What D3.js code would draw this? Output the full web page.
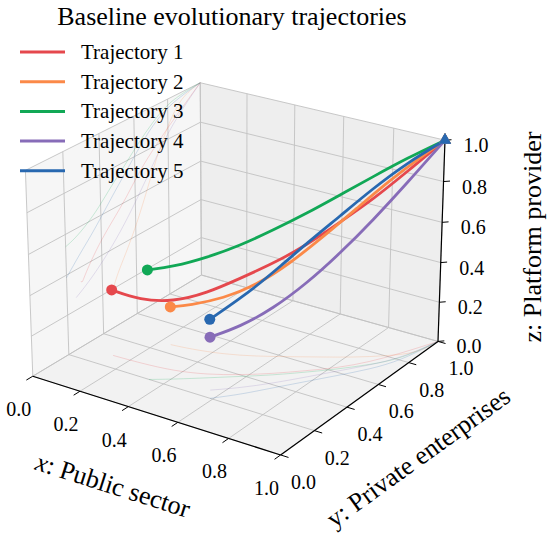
<!DOCTYPE html>
<html>
<head>
<meta charset="utf-8">
<script src="https://cdn.jsdelivr.net/npm/d3@7"></script>
<style>
  body { margin: 0; background: #fff; }
  svg { display: block; }
  text { font-family: "Liberation Serif", "Times New Roman", serif; fill: #000; }
</style>
</head>
<body>
<div id="chart"></div>
<script>
// Trajectory samples, as [x, y, z]
const traj1 = [[0.13, 0.28, 0.33], [0.245, 0.285, 0.317], [0.372, 0.30, 0.345], [0.481, 0.34, 0.404], [0.575, 0.40, 0.478],
  [0.661, 0.47, 0.545], [0.741, 0.55, 0.621], [0.82, 0.63, 0.719], [0.887, 0.73, 0.804], [0.942, 0.85, 0.896], [1, 1, 1]];
const traj2 = [[0.245, 0.46, 0.192], [0.321, 0.47, 0.223], [0.439, 0.50, 0.282], [0.542, 0.55, 0.359], [0.637, 0.61, 0.468],
  [0.73, 0.67, 0.60], [0.823, 0.73, 0.739], [0.908, 0.80, 0.87], [0.987, 0.88, 0.977], [1, 1, 1]];
const traj3 = [[0.34, 0.20, 0.54], [0.41, 0.25, 0.554], [0.496, 0.32, 0.592], [0.581, 0.39, 0.644], [0.667, 0.46, 0.713],
  [0.746, 0.54, 0.78], [0.824, 0.62, 0.855], [0.896, 0.71, 0.923], [0.964, 0.81, 0.986], [1, 1, 1]];
const traj4 = [[0.556, 0.25, 0.262], [0.629, 0.32, 0.302], [0.701, 0.41, 0.37], [0.768, 0.51, 0.464], [0.834, 0.61, 0.582],
  [0.90, 0.71, 0.717], [0.961, 0.82, 0.861], [1, 1, 1]];
const traj5 = [[0.59, 0.20, 0.387], [0.656, 0.28, 0.47], [0.694, 0.34, 0.525], [0.733, 0.40, 0.588], [0.785, 0.48, 0.678],
  [0.85, 0.58, 0.781], [0.915, 0.68, 0.887], [0.97, 0.80, 0.969], [1, 1, 1]];

const seriesNames = ["Trajectory 1", "Trajectory 2", "Trajectory 3", "Trajectory 4", "Trajectory 5"];
const seriesColors = ["#e5484d", "#fb8948", "#11a856", "#876cb8", "#2868b0"];
const tickValues = [0, 0.2, 0.4, 0.6, 0.8, 1.0];
const tickLabels = ["0.0", "0.2", "0.4", "0.6", "0.8", "1.0"];

const allTraj = [traj1, traj2, traj3, traj4, traj5];

const width = 550, height = 540;

const svg = d3.select("#chart")
  .append("svg")
  .attr("width", width)
  .attr("height", height);

// 3D projection (perspective, like matplotlib's mplot3d)
//=========================================
const elev = 24, azim = -56, dist = 10;
const k = 1.8294640721620434 / Math.hypot(4, 4, 3);
const aspect = [4 * k, 4 * k, 3 * k];

const xBox = d3.scaleLinear().domain([0, 1]).range([-aspect[0] / 2, aspect[0] / 2]);
const yBox = d3.scaleLinear().domain([0, 1]).range([-aspect[1] / 2, aspect[1] / 2]);
const zBox = d3.scaleLinear().domain([0, 1]).range([-aspect[2] / 2, aspect[2] / 2]);

const er = elev * Math.PI / 180, ar = azim * Math.PI / 180;
const wv = [Math.cos(er) * Math.cos(ar), Math.cos(er) * Math.sin(ar), Math.sin(er)];
const uv = [-Math.sin(ar), Math.cos(ar), 0];
const vv = [-Math.sin(er) * Math.cos(ar), -Math.sin(er) * Math.sin(ar), Math.cos(er)];

// projected plane -> pixels
const screenX = d3.scaleLinear().domain([0, 0.1]).range([238.2, 238.2 + 259.8]);
const screenY = d3.scaleLinear().domain([0, 0.1]).range([258.6, 258.6 - 259.8]);

const dot = (a, b) => a[0] * b[0] + a[1] * b[1] + a[2] * b[2];

function project(p) {
  const q = [xBox(p[0]), yBox(p[1]), zBox(p[2])];
  const depth = dist - dot(wv, q);
  return [screenX(dot(uv, q) / depth), screenY(dot(vv, q) / depth)];
}

const line = d3.line().curve(d3.curveBasis);
const seg = (a, b) => d3.line()([project(a), project(b)]);

// Panes
//=========================================
const panes = [
  { pts: [[0, 0, 0], [0, 1, 0], [0, 1, 1], [0, 0, 1]], fill: "#f6f6f6" },
  { pts: [[0, 1, 0], [1, 1, 0], [1, 1, 1], [0, 1, 1]], fill: "#eeeeee" },
  { pts: [[0, 0, 0], [1, 0, 0], [1, 1, 0], [0, 1, 0]], fill: "#f2f2f2" }
];

svg.append("g").selectAll("path")
  .data(panes)
  .enter()
  .append("path")
  .attr("d", d => "M" + d.pts.map(project).join("L") + "Z")
  .attr("fill", d => d.fill);

// Grid lines on the three back panes
const gridSegs = [];
tickValues.forEach(t => {
  gridSegs.push([[t, 0, 0], [t, 1, 0]], [[0, t, 0], [1, t, 0]]);   // floor
  gridSegs.push([[0, t, 0], [0, t, 1]], [[0, 0, t], [0, 1, t]]);   // left wall
  gridSegs.push([[t, 1, 0], [t, 1, 1]], [[0, 1, t], [1, 1, t]]);   // back wall
});

svg.append("g").selectAll("path")
  .data(gridSegs)
  .enter()
  .append("path")
  .attr("d", d => seg(d[0], d[1]))
  .attr("stroke", "#c2c2c2")
  .attr("stroke-width", 0.9)
  .attr("fill", "none");

// Faint shadows of the trajectories on the floor and the left wall
const shadows = svg.append("g").attr("fill", "none");
allTraj.forEach((tr, i) => {
  shadows.append("path")
    .attr("d", line(tr.map(p => project([p[0], p[1], 0]))))
    .attr("stroke", seriesColors[i])
    .attr("stroke-opacity", 0.2)
    .attr("stroke-width", 1);
  shadows.append("path")
    .attr("d", line(tr.map(p => project([0, p[1], p[2]]))))
    .attr("stroke", seriesColors[i])
    .attr("stroke-opacity", 0.2)
    .attr("stroke-width", 1);
});

// Axes
//=========================================
const axisG = svg.append("g");
const axes = [
  { from: [0, 0, 0], to: [1, 0, 0], at: t => [t, 0, 0], out: t => [t, -0.035, 0], off: [-14, 33] },
  { from: [1, 0, 0], to: [1, 1, 0], at: t => [1, t, 0], out: t => [1.03, t, 0], off: [23, 27] },
  { from: [1, 1, 0], to: [1, 1, 1], at: t => [1, 1, t], out: t => [1.016, 1.016, t], off: [31, 5] }
];

axes.forEach(ax => {
  axisG.append("path")
    .attr("d", seg(ax.from, ax.to))
    .attr("stroke", "#000")
    .attr("stroke-width", 1.2);

  tickValues.forEach((t, j) => {
    axisG.append("path")
      .attr("d", seg(ax.at(t), ax.out(t)))
      .attr("stroke", "#000")
      .attr("stroke-width", 1);
    const p = project(ax.at(t));
    axisG.append("text")
      .attr("x", p[0] + ax.off[0])
      .attr("y", p[1] + ax.off[1])
      .attr("text-anchor", "middle")
      .attr("dominant-baseline", "central")
      .style("font-size", "20px")
      .text(tickLabels[j]);
  });
});

// Axis titles, rotated along their axis
function axisAngle(a, b) {
  const p = project(a), q = project(b);
  return Math.atan2(q[1] - p[1], q[0] - p[0]) * 180 / Math.PI;
}

const axisTitles = [
  { parts: [["x", "italic"], [": Public sector", "normal"]], x: 113, y: 485, rot: axisAngle([0, 0, 0], [1, 0, 0]) },
  { parts: [["y: Private enterprises", "normal"]], x: 418, y: 457, rot: axisAngle([1, 0, 0], [1, 1, 0]) },
  { parts: [["z: Platform provider", "normal"]], x: 532, y: 237, rot: -90 }
];

axisTitles.forEach(t => {
  const txt = svg.append("text")
    .attr("transform", `translate(${t.x},${t.y}) rotate(${t.rot})`)
    .attr("text-anchor", "middle")
    .attr("dominant-baseline", "central")
    .style("font-size", "26px");
  t.parts.forEach(p => txt.append("tspan").style("font-style", p[1]).text(p[0]));
});

// Trajectories
//=========================================
const trajG = svg.append("g");
allTraj.forEach((tr, i) => {
  trajG.append("path")
    .attr("d", line(tr.map(project)))
    .attr("stroke", seriesColors[i])
    .attr("stroke-width", 2.8)
    .attr("stroke-linecap", "round")
    .attr("fill", "none");
});

allTraj.forEach((tr, i) => {
  const s = project(tr[0]);
  trajG.append("circle")
    .attr("cx", s[0])
    .attr("cy", s[1])
    .attr("r", 5.5)
    .attr("fill", seriesColors[i]);
  const e = project(tr[tr.length - 1]);
  trajG.append("path")
    .attr("d", d3.symbol(d3.symbolTriangle, 65)())
    .attr("transform", `translate(${e[0]},${e[1]})`)
    .attr("fill", seriesColors[i]);
});

// Legend
//=========================================
const legend = svg.append("g");
seriesNames.forEach((name, i) => {
  const y = 52 + i * 29.7;
  legend.append("line")
    .attr("x1", 20).attr("x2", 65)
    .attr("y1", y).attr("y2", y)
    .attr("stroke", seriesColors[i])
    .attr("stroke-width", 3);
  legend.append("text")
    .attr("x", 81)
    .attr("y", y)
    .attr("dominant-baseline", "central")
    .style("font-size", "21px")
    .text(name);
});

// Title
svg.append("text")
  .attr("x", 232)
  .attr("y", 25)
  .attr("text-anchor", "middle")
  .style("font-size", "26px")
  .text("Baseline evolutionary trajectories");
</script>
</body>
</html>
